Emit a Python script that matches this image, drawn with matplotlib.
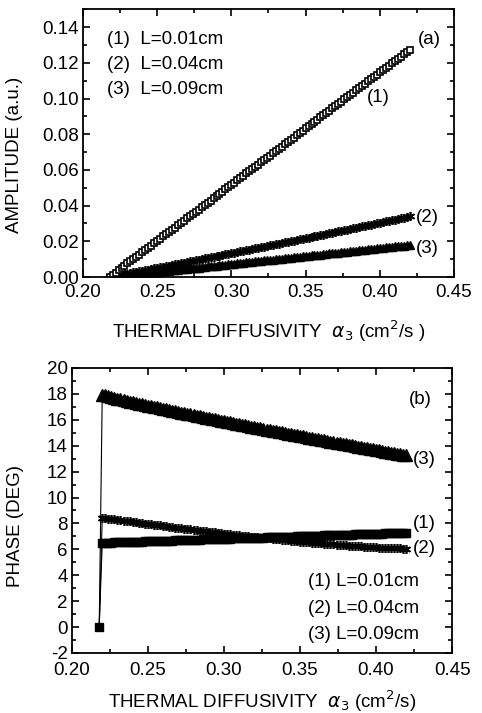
import numpy as np
import matplotlib
matplotlib.use("Agg")
import matplotlib.pyplot as plt
from matplotlib.ticker import MultipleLocator, FormatStrFormatter

plt.rcParams['font.family'] = ['Liberation Sans', 'DejaVu Sans']
plt.rcParams['font.size'] = 13.5
plt.rcParams['axes.unicode_minus'] = False

# ---------------- data ----------------
# thermal diffusivity alpha_3 (cm^2/s): 0.218 ... 0.420 in steps of 0.002
alpha = np.round(np.arange(0.218, 0.4201, 0.002), 3)

amp_L001 = [0.0,
    0.0013, 0.0025, 0.0038, 0.0050, 0.0063, 0.0076, 0.0088, 0.0101, 0.0113, 0.0126,
    0.0139, 0.0151, 0.0164, 0.0176, 0.0189, 0.0202, 0.0214, 0.0227, 0.0239, 0.0252,
    0.0265, 0.0277, 0.0290, 0.0302, 0.0315, 0.0328, 0.0340, 0.0353, 0.0365, 0.0378,
    0.0391, 0.0403, 0.0416, 0.0428, 0.0441, 0.0454, 0.0466, 0.0479, 0.0491, 0.0504,
    0.0517, 0.0529, 0.0542, 0.0554, 0.0567, 0.0580, 0.0592, 0.0605, 0.0617, 0.0630,
    0.0643, 0.0655, 0.0668, 0.0680, 0.0693, 0.0706, 0.0718, 0.0731, 0.0743, 0.0756,
    0.0769, 0.0781, 0.0794, 0.0806, 0.0819, 0.0832, 0.0844, 0.0857, 0.0869, 0.0882,
    0.0895, 0.0907, 0.0920, 0.0932, 0.0945, 0.0958, 0.0970, 0.0983, 0.0995, 0.1008,
    0.1021, 0.1033, 0.1046, 0.1058, 0.1071, 0.1084, 0.1096, 0.1109, 0.1121, 0.1134,
    0.1147, 0.1159, 0.1172, 0.1184, 0.1197, 0.1210, 0.1222, 0.1235, 0.1247, 0.1260,
    0.1273]

amp_L004 = [0.0,
    0.0003, 0.0006, 0.0010, 0.0013, 0.0016, 0.0019, 0.0022, 0.0026, 0.0029, 0.0032,
    0.0035, 0.0038, 0.0042, 0.0045, 0.0048, 0.0051, 0.0055, 0.0058, 0.0061, 0.0064,
    0.0068, 0.0071, 0.0074, 0.0077, 0.0081, 0.0084, 0.0087, 0.0090, 0.0094, 0.0097,
    0.0100, 0.0104, 0.0107, 0.0110, 0.0114, 0.0117, 0.0120, 0.0123, 0.0127, 0.0130,
    0.0133, 0.0137, 0.0140, 0.0143, 0.0147, 0.0150, 0.0153, 0.0157, 0.0160, 0.0164,
    0.0167, 0.0170, 0.0174, 0.0177, 0.0180, 0.0184, 0.0187, 0.0190, 0.0194, 0.0197,
    0.0201, 0.0204, 0.0207, 0.0211, 0.0214, 0.0218, 0.0221, 0.0225, 0.0228, 0.0231,
    0.0235, 0.0238, 0.0242, 0.0245, 0.0249, 0.0252, 0.0256, 0.0259, 0.0262, 0.0266,
    0.0269, 0.0273, 0.0276, 0.0280, 0.0283, 0.0287, 0.0290, 0.0294, 0.0297, 0.0301,
    0.0304, 0.0308, 0.0311, 0.0315, 0.0318, 0.0322, 0.0325, 0.0329, 0.0332, 0.0336,
    0.0340]

amp_L009 = [0.0,
    0.0002, 0.0004, 0.0005, 0.0007, 0.0009, 0.0011, 0.0012, 0.0014, 0.0016, 0.0018,
    0.0020, 0.0021, 0.0023, 0.0025, 0.0027, 0.0028, 0.0030, 0.0032, 0.0034, 0.0036,
    0.0037, 0.0039, 0.0041, 0.0043, 0.0045, 0.0046, 0.0048, 0.0050, 0.0052, 0.0053,
    0.0055, 0.0057, 0.0059, 0.0061, 0.0062, 0.0064, 0.0066, 0.0068, 0.0069, 0.0071,
    0.0073, 0.0075, 0.0077, 0.0078, 0.0080, 0.0082, 0.0084, 0.0085, 0.0087, 0.0089,
    0.0091, 0.0093, 0.0094, 0.0096, 0.0098, 0.0100, 0.0101, 0.0103, 0.0105, 0.0107,
    0.0109, 0.0110, 0.0112, 0.0114, 0.0116, 0.0117, 0.0119, 0.0121, 0.0123, 0.0125,
    0.0126, 0.0128, 0.0130, 0.0132, 0.0134, 0.0135, 0.0137, 0.0139, 0.0141, 0.0142,
    0.0144, 0.0146, 0.0148, 0.0150, 0.0151, 0.0153, 0.0155, 0.0157, 0.0158, 0.0160,
    0.0162, 0.0164, 0.0166, 0.0167, 0.0169, 0.0171, 0.0173, 0.0174, 0.0176, 0.0178,
    0.0180]

phase_L001 = [0.0,
    6.50, 6.51, 6.52, 6.52, 6.53, 6.54, 6.55, 6.55, 6.56, 6.57,
    6.58, 6.59, 6.59, 6.60, 6.61, 6.62, 6.62, 6.63, 6.64, 6.65,
    6.66, 6.66, 6.67, 6.68, 6.69, 6.70, 6.70, 6.71, 6.72, 6.73,
    6.73, 6.74, 6.75, 6.76, 6.77, 6.77, 6.78, 6.79, 6.80, 6.80,
    6.81, 6.82, 6.83, 6.84, 6.84, 6.85, 6.86, 6.87, 6.87, 6.88,
    6.89, 6.90, 6.91, 6.91, 6.92, 6.93, 6.94, 6.94, 6.95, 6.96,
    6.97, 6.98, 6.98, 6.99, 7.00, 7.01, 7.01, 7.02, 7.03, 7.04,
    7.05, 7.05, 7.06, 7.07, 7.08, 7.09, 7.09, 7.10, 7.11, 7.12,
    7.12, 7.13, 7.14, 7.15, 7.16, 7.16, 7.17, 7.18, 7.19, 7.19,
    7.20, 7.21, 7.22, 7.23, 7.23, 7.24, 7.25, 7.26, 7.26, 7.27,
    7.28]

phase_L004 = [0.0,
    8.45, 8.42, 8.38, 8.35, 8.32, 8.28,
    8.25, 8.22, 8.19, 8.15, 8.12,
    8.09, 8.06, 8.03, 7.99, 7.96,
    7.93, 7.90, 7.87, 7.84, 7.81,
    7.78, 7.75, 7.71, 7.68, 7.65,
    7.62, 7.60, 7.57, 7.54, 7.51,
    7.48, 7.45, 7.42, 7.39, 7.36,
    7.34, 7.31, 7.28, 7.25, 7.22,
    7.20, 7.17, 7.14, 7.12, 7.09,
    7.06, 7.04, 7.01, 6.99, 6.96,
    6.93, 6.91, 6.88, 6.86, 6.84,
    6.81, 6.79, 6.76, 6.74, 6.72,
    6.69, 6.67, 6.65, 6.62, 6.60,
    6.58, 6.56, 6.54, 6.52, 6.50,
    6.48, 6.46, 6.44, 6.42, 6.40,
    6.38, 6.36, 6.34, 6.32, 6.30,
    6.29, 6.27, 6.25, 6.24, 6.22,
    6.20, 6.19, 6.18, 6.16, 6.15,
    6.13, 6.12, 6.11, 6.10, 6.09,
    6.08, 6.07, 6.07, 6.06, 6.05]

phase_L009 = [0.0,
    17.95, 17.88, 17.81, 17.75, 17.69, 17.63,
    17.58, 17.52, 17.47, 17.41, 17.36,
    17.31, 17.25, 17.20, 17.15, 17.10,
    17.05, 17.00, 16.95, 16.90, 16.85,
    16.80, 16.75, 16.70, 16.65, 16.60,
    16.55, 16.50, 16.46, 16.41, 16.36,
    16.31, 16.27, 16.22, 16.17, 16.12,
    16.08, 16.03, 15.98, 15.94, 15.89,
    15.84, 15.80, 15.75, 15.71, 15.66,
    15.61, 15.57, 15.52, 15.48, 15.43,
    15.39, 15.34, 15.30, 15.25, 15.21,
    15.16, 15.12, 15.07, 15.03, 14.98,
    14.94, 14.89, 14.85, 14.81, 14.76,
    14.72, 14.67, 14.63, 14.59, 14.54,
    14.50, 14.45, 14.41, 14.37, 14.32,
    14.28, 14.24, 14.19, 14.15, 14.10,
    14.06, 14.02, 13.98, 13.93, 13.89,
    13.85, 13.80, 13.76, 13.72, 13.68,
    13.63, 13.59, 13.55, 13.50, 13.46,
    13.42, 13.38, 13.33, 13.29, 13.25]

legend_top = ["(1)  L=0.01cm", "(2)  L=0.04cm", "(3)  L=0.09cm"]
legend_bot = ["(1) L=0.01cm", "(2) L=0.04cm", "(3) L=0.09cm"]

# ---------------- figure ----------------
fig = plt.figure(figsize=(4.82, 7.13), dpi=100)
ax1 = fig.add_axes([0.172, 0.6115, 0.770, 0.3755])
ax2 = fig.add_axes([0.149, 0.0842, 0.789, 0.3997])

def style(ax, xpad):
    for s in ax.spines.values():
        s.set_linewidth(1.3)
    ax.tick_params(which='both', direction='in', top=True, right=True, width=1.2)
    ax.tick_params(which='major', length=5, pad=3)
    ax.tick_params(axis='x', which='major', pad=xpad)
    ax.tick_params(which='minor', length=3)
    ax.xaxis.set_major_locator(MultipleLocator(0.05))
    ax.xaxis.set_minor_locator(MultipleLocator(0.025))
    ax.xaxis.set_major_formatter(FormatStrFormatter('%.2f'))
    ax.set_xlim(0.20, 0.45)

# ---- (a) amplitude ----
style(ax1, 5)
ax1.plot(alpha, amp_L009, color='black', lw=0.8, marker='^', ms=6, mfc='black', mec='black')
ax1.plot(alpha, amp_L004, color='black', lw=0.8, marker=(6, 2, 0), ms=6.5, mew=1.2, mec='black')
ax1.plot(alpha, amp_L001, color='black', lw=0.8, marker='s', ms=4.6, mfc='white', mec='black', mew=1.2)
ax1.set_ylim(0, 0.15)
ax1.yaxis.set_minor_locator(MultipleLocator(0.01))
ax1.yaxis.set_major_formatter(FormatStrFormatter('%.2f'))
ax1.set_yticks(np.arange(0, 0.141, 0.02))
ax1.set_ylabel('AMPLITUDE (a.u.)')
ax1.yaxis.set_label_coords(-0.162, 0.455)
ax1.set_xlabel(r'THERMAL DIFFUSIVITY  $\alpha_3$ (cm$^2$/s )')
ax1.xaxis.set_label_coords(0.5, -0.155)
for txt, yy in zip(legend_top, [0.1328, 0.1193, 0.1048]):
    ax1.text(0.2162, yy, txt, ha='left', va='center')
ax1.text(0.4257, 0.1328, '(a)', ha='left', va='center')
ax1.text(0.3914, 0.1003, '(1)', ha='left', va='center')
ax1.text(0.4244, 0.0336, '(2)', ha='left', va='center')
ax1.text(0.4244, 0.0162, '(3)', ha='left', va='center')

# ---- (b) phase ----
style(ax2, 6.5)
ax2.plot(alpha, phase_L009, color='black', lw=0.8, marker='^', ms=8, mfc='black', mec='black',
         markevery=slice(1, None))
ax2.plot(alpha, phase_L004, color='black', lw=0.8, marker=(6, 2, 0), ms=6.5, mew=1.2, mec='black',
         markevery=slice(1, None))
ax2.plot(alpha, phase_L001, color='black', lw=0.8, marker='s', ms=5.8, mfc='black', mec='black')
ax2.set_ylim(-2, 20)
ax2.yaxis.set_major_locator(MultipleLocator(2))
ax2.yaxis.set_minor_locator(MultipleLocator(1))
ax2.set_ylabel('PHASE (DEG)')
ax2.yaxis.set_label_coords(-0.125, 0.447)
ax2.set_xlabel(r'THERMAL DIFFUSIVITY  $\alpha_3$ (cm$^2$/s)')
ax2.xaxis.set_label_coords(0.5, -0.125)
ax2.text(0.4217, 17.54, '(b)', ha='left', va='center')
ax2.text(0.4243, 12.9, '(3)', ha='left', va='center')
ax2.text(0.4243, 7.96, '(1)', ha='left', va='center')
ax2.text(0.4243, 6.1, '(2)', ha='left', va='center')
for txt, yy in zip(legend_bot, [3.48, 1.47, -0.61]):
    ax2.text(0.3553, yy, txt, ha='left', va='center')

fig.savefig('out.png', dpi=100)
